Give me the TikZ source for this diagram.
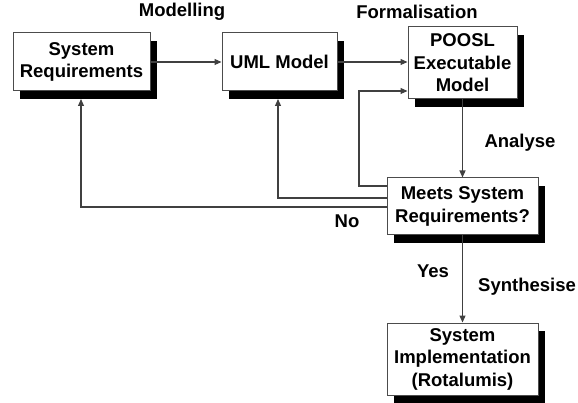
\documentclass[tikz,border=0pt]{standalone}
\usepackage{fontspec}
\setmainfont{Liberation Sans}
\usetikzlibrary{arrows.meta,shadows}
\begin{document}
\begin{tikzpicture}[x=1pt,y=-1pt,
  box/.style={draw=black!70,line width=1pt,fill=white,align=center,inner sep=0pt,
    font=\fontsize{18.5}{22.5}\selectfont\bfseries,
    drop shadow={shadow xshift=7pt,shadow yshift=-8pt,fill=black,opacity=1}},
  lbl/.style={font=\fontsize{18.5}{22}\selectfont\bfseries,inner sep=0pt},
  conn/.style={draw=black!75,line width=1.1pt},
  arr/.style={conn,-{Triangle[length=7pt,width=6pt]}}]
\useasboundingbox (0,0) rectangle (578,403);
\node[box,minimum width=137pt,minimum height=58pt] (req) at (81.5,62) {System\\Requirements};
\node[box,minimum width=115pt,minimum height=58pt] (uml) at (279.5,62) {UML Model};
\node[box,minimum width=109pt,minimum height=72pt] (poosl) at (462.5,63) {POOSL\\Executable\\Model};
\node[box,minimum width=151pt,minimum height=57pt] (meet) at (462.5,206.5) {Meets System\\Requirements?};
\node[box,minimum width=151pt,minimum height=72pt] (impl) at (462.5,359) {System\\Implementation\\(Rotalumis)};
\node[lbl] (tmod) at (182,12) {Modelling};
\node[lbl] (tform) at (417,12) {Formalisation};
\node[lbl] (tana) at (520,143) {Analyse};
\node[lbl] (tno) at (347,221) {No};
\node[lbl] (tyes) at (433,271) {Yes};
\node[lbl] (tsyn) at (527,287) {Synthesise};
\coordinate (f1) at (359,186);
\coordinate (f2) at (278,198);
\coordinate (f3) at (81,207);
\draw[arr] (req.east) -- (uml.west);
\draw[arr] (uml.east) -- (poosl.west |- uml.east);
\draw[arr] (poosl.south) -- (meet.north);
\draw[arr] (meet.south) -- (impl.north);
\draw[arr] (meet.west |- f1) -- (f1) -- (f1 |- 0,91) -- (poosl.west |- 0,91);
\draw[arr] (meet.west |- f2) -- (f2) -- (f2 |- 0,99);
\draw[arr] (meet.west |- f3) -- (f3) -- (f3 |- 0,99);
\end{tikzpicture}
\end{document}
